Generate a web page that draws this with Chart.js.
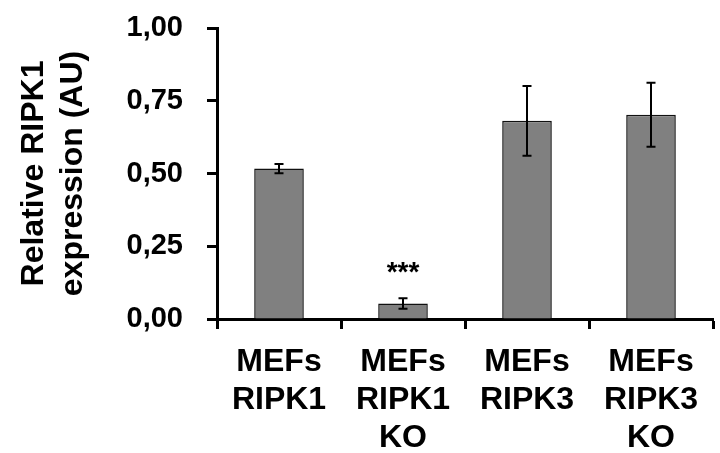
<!DOCTYPE html>
<html>
<head>
<meta charset="utf-8">
<script src="https://cdn.jsdelivr.net/npm/chart.js@4/dist/chart.umd.min.js"></script>
<style>
  html, body { margin: 0; padding: 0; background: #ffffff; }
  #wrap { width: 720px; height: 453px; }
</style>
</head>
<body>
<div id="wrap"><canvas id="chart" width="720" height="453"></canvas></div>
<script>
// Cell lines and measured relative RIPK1 expression (mean ± error)
const categories = [
  ['MEFs', 'RIPK1'],
  ['MEFs', 'RIPK1', 'KO'],
  ['MEFs', 'RIPK3'],
  ['MEFs', 'RIPK3', 'KO']
];
const means = [0.517, 0.053, 0.681, 0.702];
const errors = [0.016, 0.018, 0.120, 0.110];
const significance = ['', '***', '', ''];
const yTicks = [0, 0.25, 0.5, 0.75, 1.0];

const FONT = "'Liberation Sans', Arial, sans-serif";

// Error bars and significance stars drawn on top of the bars
const errorBarPlugin = {
  id: 'errorBars',
  afterDatasetsDraw(chart) {
    const ctx = chart.ctx;
    const meta = chart.getDatasetMeta(0);
    const y = chart.scales.y;
    ctx.save();
    ctx.strokeStyle = '#000000';
    ctx.lineWidth = 2;
    meta.data.forEach((bar, i) => {
      const x = bar.x;
      const top = y.getPixelForValue(means[i] + errors[i]);
      const bot = y.getPixelForValue(means[i] - errors[i]);
      const cap = 4.5;
      ctx.beginPath();
      ctx.moveTo(x, top); ctx.lineTo(x, bot);
      ctx.moveTo(x - cap, top); ctx.lineTo(x + cap, top);
      ctx.moveTo(x - cap, bot); ctx.lineTo(x + cap, bot);
      ctx.stroke();
      if (significance[i]) {
        ctx.fillStyle = '#000000';
        ctx.font = 'bold 28px ' + FONT;
        ctx.textAlign = 'center';
        ctx.textBaseline = 'alphabetic';
        ctx.fillText(significance[i], x, top - 17);
      }
    });
    ctx.restore();
  }
};

new Chart(document.getElementById('chart'), {
  type: 'bar',
  data: {
    labels: categories,
    datasets: [{
      data: means,
      backgroundColor: '#808080',
      borderColor: '#111111',
      borderWidth: 1.5,
      borderSkipped: 'bottom',
      categoryPercentage: 1.0,
      barPercentage: 0.4
    }]
  },
  options: {
    responsive: false,
    animation: false,
    devicePixelRatio: 1,
    layout: { padding: { top: 28, right: 7, bottom: 0, left: 0 } },
    plugins: {
      legend: { display: false },
      tooltip: { enabled: false }
    },
    scales: {
      x: {
        grid: {
          display: true,
          drawOnChartArea: false,
          drawTicks: true,
          tickLength: 10,
          tickWidth: 3,
          tickColor: '#000000',
          offset: true
        },
        border: { display: true, color: '#000000', width: 3 },
        ticks: {
          color: '#000000',
          padding: 14,
          maxRotation: 0,
          autoSkip: false,
          font: { family: FONT, size: 32, weight: 'bold', lineHeight: 1.19 }
        },
        afterFit(scale) {
          scale.height = 134;
          scale.paddingLeft = 0;
          scale.paddingRight = 0;
        }
      },
      y: {
        min: 0,
        max: 1,
        afterBuildTicks(scale) { scale.ticks = yTicks.map(v => ({ value: v })); },
        grid: {
          display: true,
          drawOnChartArea: false,
          drawTicks: true,
          tickLength: 10,
          tickWidth: 3,
          tickColor: '#000000'
        },
        border: { display: true, color: '#000000', width: 3 },
        ticks: {
          color: '#000000',
          padding: 24,
          font: { family: FONT, size: 29, weight: 'bold' },
          callback: (v) => Number(v).toFixed(2).replace('.', ',')
        },
        title: {
          display: true,
          text: ['Relative RIPK1', 'expression (AU)'],
          color: '#000000',
          padding: { top: 15, bottom: 0 },
          font: { family: FONT, size: 32, weight: 'bold', lineHeight: 1.22 }
        },
        afterFit(scale) {
          scale.width = 217;
          scale.paddingTop = 0;
          scale.paddingBottom = 0;
        }
      }
    }
  },
  plugins: [errorBarPlugin]
});
</script>
</body>
</html>
